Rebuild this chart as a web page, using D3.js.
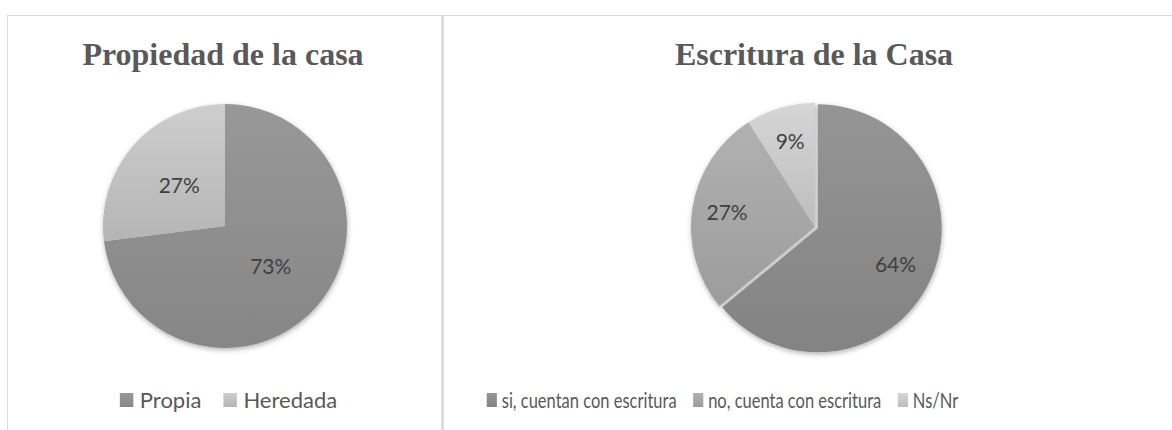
<!DOCTYPE html>
<html>
<head>
<meta charset="utf-8">
<script src="https://cdn.jsdelivr.net/npm/d3@7"></script>
<style>
  body { margin: 0; background: #fff; }
  svg { display: block; }
</style>
</head>
<body>
<svg id="chart" width="1172" height="430"></svg>
<script>
var propiedadLabels = ["Propia", "Heredada"],
    propiedadValues = [73, 27],
    escrituraLabels = ["si, cuentan con escritura", "no, cuenta con escritura", "Ns/Nr"],
    escrituraValues = [64, 27, 9];

var svg = d3.select("#chart"),
    defs = svg.append("defs");

// soft shadow under the pies
var shadow = defs.append("filter")
  .attr("id", "shadow")
  .attr("x", "-20%").attr("y", "-20%")
  .attr("width", "140%").attr("height", "140%");
shadow.append("feDropShadow")
  .attr("dx", 0.5)
  .attr("dy", 2)
  .attr("stdDeviation", 2.5)
  .attr("flood-color", "#000")
  .attr("flood-opacity", 0.3);

// panel frame
svg.append("line")
  .attr("x1", 7).attr("x2", 1172)
  .attr("y1", 15.5).attr("y2", 15.5)
  .attr("stroke", "#d9d9d9");
svg.append("line")
  .attr("x1", 7.5).attr("x2", 7.5)
  .attr("y1", 15).attr("y2", 430)
  .attr("stroke", "#d9d9d9");
svg.append("rect")
  .attr("x", 441).attr("y", 15)
  .attr("width", 3).attr("height", 415)
  .attr("fill", "#dcdcdc");

function gradient(id, color) {
  var c = d3.color(color),
      g = defs.append("linearGradient")
        .attr("id", id)
        .attr("x1", 0).attr("x2", 0)
        .attr("y1", 0).attr("y2", 1);
  g.append("stop").attr("offset", "0%").attr("stop-color", c.brighter(0.18));
  g.append("stop").attr("offset", "100%").attr("stop-color", c.darker(0.18));
  return "url(#" + id + ")";
}

function drawPie(o) {
  var g = svg.append("g"),
      fills = o.colors.map(function(c, i) { return gradient(o.id + i, c); });

  g.append("text")
    .attr("x", o.titleX)
    .attr("y", 65)
    .attr("text-anchor", "middle")
    .attr("font-family", "'Liberation Serif', 'Times New Roman', serif")
    .attr("font-weight", "bold")
    .attr("font-size", 32)
    .attr("fill", "#595959")
    .text(o.title);

  var pie = d3.pie().sort(null)(o.values),
      arc = d3.arc().innerRadius(0).outerRadius(o.r),
      labelArc = d3.arc().innerRadius(o.labelR).outerRadius(o.labelR);

  var pg = g.append("g")
    .attr("transform", "translate(" + o.cx + "," + o.cy + ")")
    .attr("filter", "url(#shadow)");

  pg.selectAll("path")
    .data(pie)
    .enter().append("path")
    .attr("d", arc)
    .attr("fill", function(d, i) { return fills[i]; })
    .attr("transform", function(d, i) {
      var off = o.explode[i] || 0,
          a = (d.startAngle + d.endAngle) / 2;
      return "translate(" + (off * Math.sin(a)) + "," + (-off * Math.cos(a)) + ")";
    });

  g.append("g")
    .attr("transform", "translate(" + o.cx + "," + o.cy + ")")
    .selectAll("text")
    .data(pie)
    .enter().append("text")
    .attr("transform", function(d) { return "translate(" + labelArc.centroid(d) + ")"; })
    .attr("dy", "0.35em")
    .attr("text-anchor", "middle")
    .attr("font-family", "Lato, sans-serif")
    .attr("font-size", 21)
    .attr("fill", "#404040")
    .text(function(d) { return d.value + "%"; });

  // legend (the right one is squeezed sideways in the original)
  var lg = g.append("g"),
      x = 0;
  o.labels.forEach(function(name, i) {
    var item = lg.append("g").attr("transform", "translate(" + x + ",0)");
    item.append("rect")
      .attr("x", 0).attr("y", -7)
      .attr("width", 13.5).attr("height", 14)
      .attr("fill", fills[i]);
    var t = item.append("text")
      .attr("x", 20)
      .attr("dy", "0.35em")
      .attr("font-family", "Lato, sans-serif")
      .attr("font-size", 22)
      .attr("fill", "#595959")
      .text(name);
    x += 20 + t.node().getComputedTextLength() + 22;
  });
  var w = (x - 22) * o.legendSX;
  lg.attr("transform", "translate(" + (o.legendX - w / 2) + ",400) scale(" + o.legendSX + ",1)");
}

drawPie({
  id: "prop",
  title: "Propiedad de la casa",
  titleX: 223,
  values: propiedadValues,
  labels: propiedadLabels,
  colors: ["#8f8f8f", "#c1c1c1"],
  explode: [0, 0],
  cx: 225, cy: 226, r: 122, labelR: 61,
  legendX: 228.5, legendSX: 1
});

drawPie({
  id: "escr",
  title: "Escritura de la Casa",
  titleX: 814,
  values: escrituraValues,
  labels: escrituraLabels,
  colors: ["#8c8c8c", "#a6a6a6", "#c9c9c9"],
  explode: [3, 0, 0],
  cx: 815, cy: 227, r: 124, labelR: 89,
  legendX: 722.5, legendSX: 0.75
});
</script>
</body>
</html>
